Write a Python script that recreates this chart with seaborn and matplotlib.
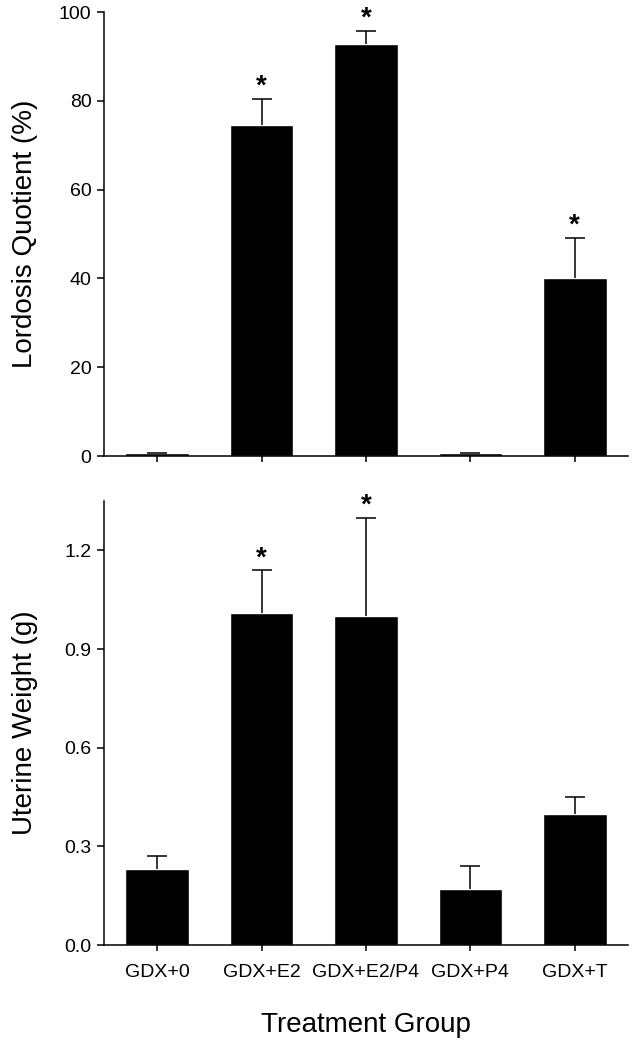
import seaborn as sns
import matplotlib.pyplot as plt
import numpy as np

# data
groups = ["GDX+0", "GDX+E2", "GDX+E2/P4", "GDX+P4", "GDX+T"]
lq_mean = [0.7, 74.5, 92.7, 0.7, 40.2]
lq_sem = [0.0, 6.0, 3.1, 0.0, 9.0]
lq_sig = [False, True, True, False, True]
uw_mean = [0.23, 1.01, 1.00, 0.17, 0.40]
uw_sem = [0.04, 0.13, 0.30, 0.07, 0.05]
uw_sig = [False, True, True, False, False]

sns.set_style("ticks")
plt.rcParams["font.family"] = ["Liberation Sans", "DejaVu Sans"]
plt.rcParams["text.color"] = "black"
plt.rcParams["axes.labelcolor"] = "black"
plt.rcParams["xtick.color"] = "black"
plt.rcParams["ytick.color"] = "black"
plt.rcParams["axes.edgecolor"] = "black"

fig = plt.figure(figsize=(6.34, 10.44), dpi=100)
ax1 = fig.add_axes([0.164, 0.5632, 0.8265, 0.4253])
ax2 = fig.add_axes([0.164, 0.0948, 0.8265, 0.4252])


def draw_panel(ax, mean, sem, sig, ylim, yticks, fmt, ylabel):
    sns.barplot(x=groups, y=mean, color="black", saturation=1, width=0.61, ax=ax)
    xs = np.arange(len(groups))
    _, caps, _ = ax.errorbar(xs, mean, yerr=[np.zeros(len(mean)), sem], fmt="none",
                             ecolor="black", elinewidth=1.1, capsize=7, capthick=1.1)
    caps[0].set_visible(False)  # only the upper cap
    for x, m, s, flag in zip(xs, mean, sem, sig):
        if flag:
            ax.annotate("*", (x, m + s), xytext=(0, 3.5), textcoords="offset points",
                        ha="center", va="baseline", fontsize=20, fontweight="bold")
    ax.set_xlim(-0.51, 4.51)
    ax.set_ylim(*ylim)
    ax.set_yticks(yticks)
    ax.set_yticklabels([fmt.format(t) for t in yticks])
    ax.set_ylabel(ylabel, fontsize=20)
    ax.yaxis.set_label_coords(-0.125, 0.5)
    ax.tick_params(axis="y", direction="out", length=5, width=1.1, labelsize=14, pad=4)
    ax.tick_params(axis="x", direction="out", length=4, width=1.1, labelsize=14, pad=10)
    for side in ["top", "right"]:
        ax.spines[side].set_visible(False)
    for side in ["left", "bottom"]:
        ax.spines[side].set_linewidth(1.1)


draw_panel(ax1, lq_mean, lq_sem, lq_sig, (0, 100), [0, 20, 40, 60, 80, 100],
           "{:.0f}", "Lordosis Quotient (%)")
ax1.set_xticklabels([])

draw_panel(ax2, uw_mean, uw_sem, uw_sig, (0, 1.35), [0.0, 0.3, 0.6, 0.9, 1.2],
           "{:.1f}", "Uterine Weight (g)")
ax2.set_xlabel("Treatment Group", fontsize=20)
ax2.xaxis.set_label_coords(0.5, -0.151)

fig.savefig("out.png", dpi=100)
